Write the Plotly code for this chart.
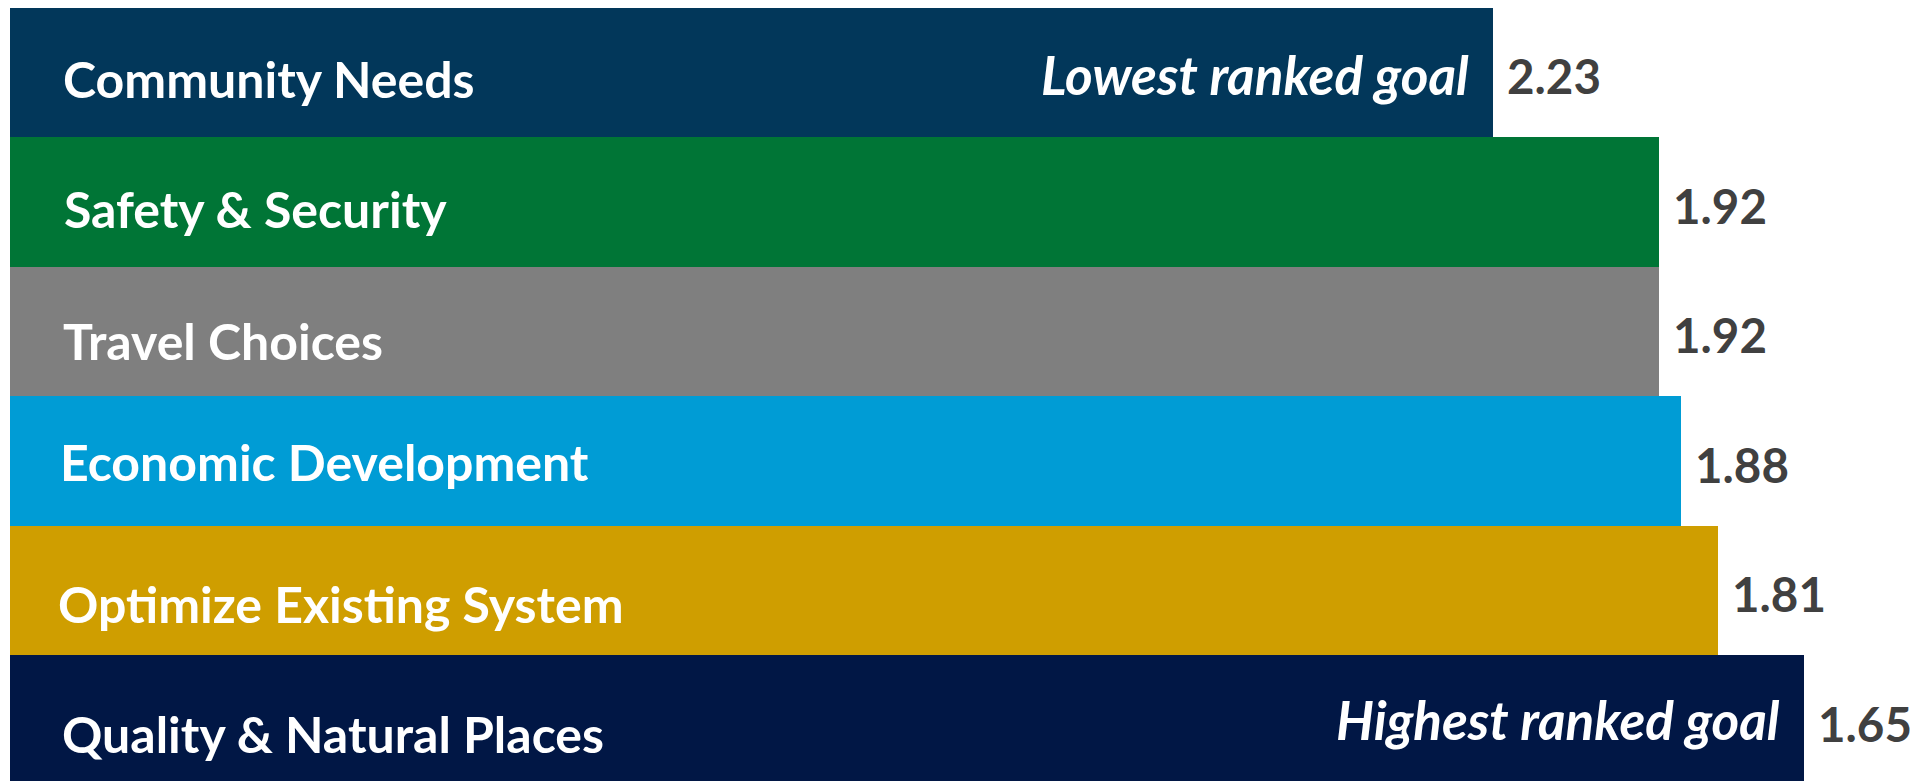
import plotly.graph_objects as go

# Data (top to bottom)
goals = ["Community Needs", "Safety & Security", "Travel Choices",
         "Economic Development", "Optimize Existing System", "Quality & Natural Places"]
scores = [2.23, 1.92, 1.92, 1.88, 1.81, 1.65]
notes = ["Lowest ranked goal", "", "", "", "", "Highest ranked goal"]
scale_max = 5  # bar length shows (scale_max - average rank): lower rank = longer bar

# Styles
colors = ["#02375A", "#007536", "#7F7F7F", "#009CD5", "#CF9E00", "#011745"]
label_shift = [-6, -7, -9, -1, -13, -14]    # px, vertical nudge of goal labels
label_x = [51, 52, 51, 48, 46, 50]          # px, left offset of goal labels
note_shift = [-2, 0, 0, 0, 0, 1]

lengths = [scale_max - s for s in scores]

fig = go.Figure(go.Bar(
    x=lengths, y=goals, orientation="h",
    marker=dict(color=colors, line=dict(width=0)),
    hoverinfo="skip",
))

FONT = "Lato"
ann = []
for i, (g, s, n, L) in enumerate(zip(goals, scores, notes, lengths)):
    ann.append(dict(x=0, y=g, xref="x", yref="y", text=f"<b>{g}</b>", showarrow=False,
                    xanchor="left", yanchor="middle", xshift=label_x[i], yshift=label_shift[i],
                    font=dict(family=FONT, size=50, color="white")))
    ann.append(dict(x=L, y=g, xref="x", yref="y", text=f"<b>{s:.2f}</b>", showarrow=False,
                    xanchor="left", yanchor="middle", xshift=12, yshift=-3,
                    font=dict(family=FONT, size=47.5, color="#404040")))
    if n:
        ann.append(dict(x=L, y=g, xref="x", yref="y", text=f"<b><i>{n}</i></b>", showarrow=False,
                        xanchor="right", yanchor="middle", xshift=-22, yshift=note_shift[i],
                        font=dict(family=FONT, size=53, color="white")))

fig.update_layout(
    width=1910, height=773,
    margin=dict(l=2, r=0, t=0, b=0),
    paper_bgcolor="white", plot_bgcolor="white",
    bargap=0, showlegend=False,
    xaxis=dict(range=[0, 3.563], visible=False, fixedrange=True),
    yaxis=dict(range=[5.47, -0.5], visible=False, fixedrange=True,
               categoryorder="array", categoryarray=goals),
    annotations=ann,
)

fig.write_html("out.html")
